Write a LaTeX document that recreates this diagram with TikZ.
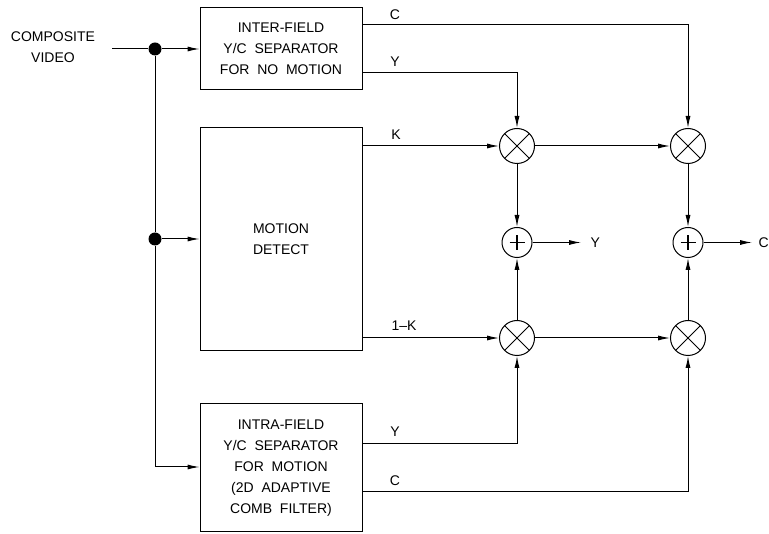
\documentclass[tikz,border=0pt]{standalone}
\usepackage{fontspec}
\setmainfont{Liberation Sans}
\usetikzlibrary{arrows.meta}
\begin{document}
\begin{tikzpicture}[x=1pt,y=-1pt,
  line width=1pt,
  every node/.style={font=\fontsize{14}{21}\selectfont},
  blk/.style={draw, inner sep=0pt, align=center},
  mult/.style={draw, circle, minimum size=35pt, inner sep=0pt, path picture={
      \draw (path picture bounding box.north west) -- (path picture bounding box.south east)
            (path picture bounding box.north east) -- (path picture bounding box.south west);}},
  adder/.style={draw, circle, minimum size=30pt, inner sep=0pt, path picture={
      \draw[line width=1.3pt] ([xshift=-7.5pt]path picture bounding box.center) -- ([xshift=7.5pt]path picture bounding box.center)
            ([yshift=-7.5pt]path picture bounding box.center) -- ([yshift=7.5pt]path picture bounding box.center);}},
  arr/.style={-{Latex[length=12pt,width=5pt]}},
  lbl/.style={inner sep=0pt},
  jdot/.style={circle, fill, inner sep=0pt, minimum size=13pt}
]
\useasboundingbox (0,0) rectangle (769,534);
% blocks
\node[blk, minimum width=162pt, minimum height=82pt] (inter) at (281,49) {INTER-FIELD\\Y/C~~SEPARATOR\\FOR~~NO~~MOTION};
\node[blk, minimum width=162pt, minimum height=223pt] (motion) at (281,239.5) {MOTION\\DETECT};
\node[blk, minimum width=162pt, minimum height=128pt] (intra) at (281,468) {INTRA-FIELD\\Y/C~~SEPARATOR\\FOR~~MOTION\\(2D~~ADAPTIVE\\COMB~~FILTER)};
% input
\node[lbl, align=center] (cv) at (53,47) {COMPOSITE\\VIDEO};
\coordinate (in) at (112,49);
\node[jdot] (d1) at (155,49) {};
\node[jdot] (d2) at (155,239) {};
\coordinate (bend) at (155,467);
\draw (in) -- (d1);
\draw[arr] (d1) -- (inter.west |- d1);
\draw (d1) -- (d2) -- (bend);
\draw[arr] (d2) -- (motion.west |- d2);
\draw[arr] (bend) -- (intra.west |- bend);
% operators
\node[mult] (m1) at (517,146) {};
\node[mult] (m2) at (688,146) {};
\node[mult] (m3) at (517,338) {};
\node[mult] (m4) at (688,338) {};
\node[adder] (a1) at (517,242.5) {};
\node[adder] (a2) at (688,242.5) {};
% outputs
\node[lbl, anchor=west] (yo) at (590,242.5) {Y};
\node[lbl, anchor=west] (co) at (758,242.5) {C};
\draw[arr, shorten >=9pt] (a1) -- (yo.west);
\draw[arr, shorten >=6pt] (a2) -- (co.west);
% inter-field outputs
\coordinate (cT) at (362,25);
\coordinate (yT) at (362,73);
\draw[arr] (cT) -| (m2);
\draw[arr] (yT) -| (m1);
\node[lbl] at (395,15) {C};
\node[lbl] at (395,62) {Y};
% motion outputs
\draw[arr] (motion.east |- m1) -- (m1);
\draw[arr] (motion.east |- m3) -- (m3);
\node[lbl] at (396,134.5) {K};
\node[lbl] at (404,325.5) {1--K};
% intra outputs
\coordinate (yB) at (362,444);
\coordinate (cB) at (362,492);
\draw[arr] (yB) -| (m3);
\draw[arr] (cB) -| (m4);
\node[lbl] at (395,432) {Y};
\node[lbl] at (395,481) {C};
% multiplier chain
\draw[arr] (m1) -- (m2);
\draw[arr] (m3) -- (m4);
\draw[arr] (m1) -- (a1);
\draw[arr] (m3) -- (a1);
\draw[arr] (m2) -- (a2);
\draw[arr] (m4) -- (a2);
\end{tikzpicture}
\end{document}
